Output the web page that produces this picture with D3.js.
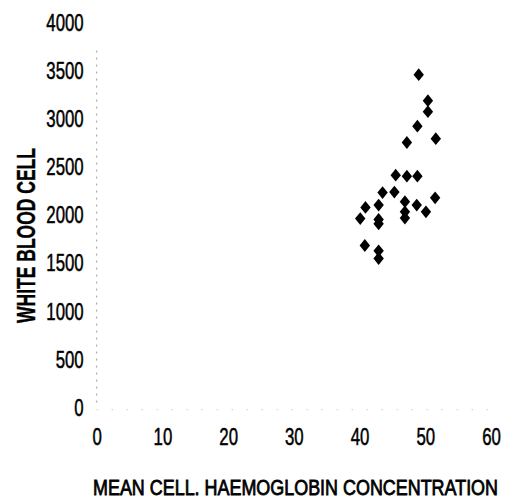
<!DOCTYPE html>
<html>
<head>
<meta charset="utf-8">
<script src="https://cdn.jsdelivr.net/npm/d3@7"></script>
<style>
  html, body { margin: 0; padding: 0; background: #fff; }
  svg { display: block; }
  text { font-family: "Liberation Sans", Arial, sans-serif; fill: #000; }
</style>
</head>
<body>
<svg id="chart" width="515" height="502"></svg>
<script>
// Mean cell haemoglobin concentration vs white blood cell count
const mchc = [49.0, 50.4, 50.4, 48.8, 47.2, 51.6, 45.5, 47.2, 48.8, 43.5, 45.3, 51.5,
              40.9, 42.9, 46.9, 48.7, 50.1, 40.1, 42.9, 42.9, 46.9, 46.9, 40.8, 42.9, 42.9];
const wbc  = [3450, 3180, 3065, 2915, 2745, 2785, 2405, 2395, 2395, 2225, 2230, 2170,
              2070, 2095, 2130, 2095, 2025, 1955, 1945, 1900, 2025, 1960, 1675, 1620, 1540];
const xTicks = [0, 10, 20, 30, 40, 50, 60];
const yTicks = [0, 500, 1000, 1500, 2000, 2500, 3000, 3500, 4000];
const xTitle = "MEAN CELL. HAEMOGLOBIN CONCENTRATION";
const yTitle = "WHITE BLOOD CELL";

const svg = d3.select("#chart");
const x = d3.scaleLinear().domain([0, 60]).range([96.7, 491]);
const y = d3.scaleLinear().domain([0, 4000]).range([406.7, 21.7]);

// squeeze text horizontally, like a condensed face
function condense(sel, factor) {
  sel.each(function () {
    const len = this.getComputedTextLength();
    d3.select(this).attr("textLength", len * factor).attr("lengthAdjust", "spacingAndGlyphs");
  });
}

// faint dotted axis lines
svg.append("line")
  .attr("x1", x(0)).attr("x2", x(0)).attr("y1", y(3700)).attr("y2", y(0))
  .attr("stroke", "#9a9a9a").attr("stroke-width", 1).attr("stroke-dasharray", "2,5");
svg.append("line")
  .attr("x1", x(0)).attr("x2", x(60)).attr("y1", y(0) + 3).attr("y2", y(0) + 3)
  .attr("stroke", "#b5b5b5").attr("stroke-width", 1).attr("stroke-dasharray", "1,14");

// y axis labels
const yAxis = svg.append("g")
  .attr("transform", `translate(${x(0)},0)`)
  .call(d3.axisLeft(y).tickValues(yTicks).tickSize(0).tickPadding(13).tickFormat(d3.format("d")));
yAxis.select(".domain").remove();
yAxis.selectAll("text")
  .style("font-size", "24px").attr("dy", "0.36em")
  .attr("stroke", "#000").attr("stroke-width", 0.5);
condense(yAxis.selectAll("text"), 0.7);

// x axis labels
const xAxis = svg.append("g")
  .attr("transform", `translate(0,${y(0)})`)
  .call(d3.axisBottom(x).tickValues(xTicks).tickSize(0).tickPadding(30).tickFormat(d3.format("d")));
xAxis.select(".domain").remove();
xAxis.selectAll("text").style("font-size", "24px").attr("dy", "0.36em")
  .attr("stroke", "#000").attr("stroke-width", 0.5);
condense(xAxis.selectAll("text"), 0.7);

// axis titles
svg.append("text")
  .attr("transform", `translate(35,235.5) rotate(-90)`)
  .attr("text-anchor", "middle")
  .style("font-size", "26px").style("font-weight", "bold")
  .attr("stroke", "#000").attr("stroke-width", 0.4)
  .attr("textLength", 175).attr("lengthAdjust", "spacingAndGlyphs")
  .text(yTitle);

// x title: small face stretched vertically so it reads tall and narrow
svg.append("text")
  .attr("transform", `translate(295.5,495) scale(1,1.35)`)
  .attr("text-anchor", "middle")
  .style("font-size", "16px")
  .attr("stroke", "#000").attr("stroke-width", 0.6)
  .attr("textLength", 405).attr("lengthAdjust", "spacingAndGlyphs")
  .text(xTitle);

// diamond markers
const hw = 5.2, hh = 6.4;
svg.append("g").selectAll("path")
  .data(mchc.map((v, i) => [v, wbc[i]]))
  .join("path")
  .attr("d", d => {
    const cx = x(d[0]), cy = y(d[1]);
    return `M${cx},${cy - hh}L${cx + hw},${cy}L${cx},${cy + hh}L${cx - hw},${cy}Z`;
  })
  .attr("fill", "#000");
</script>
</body>
</html>
